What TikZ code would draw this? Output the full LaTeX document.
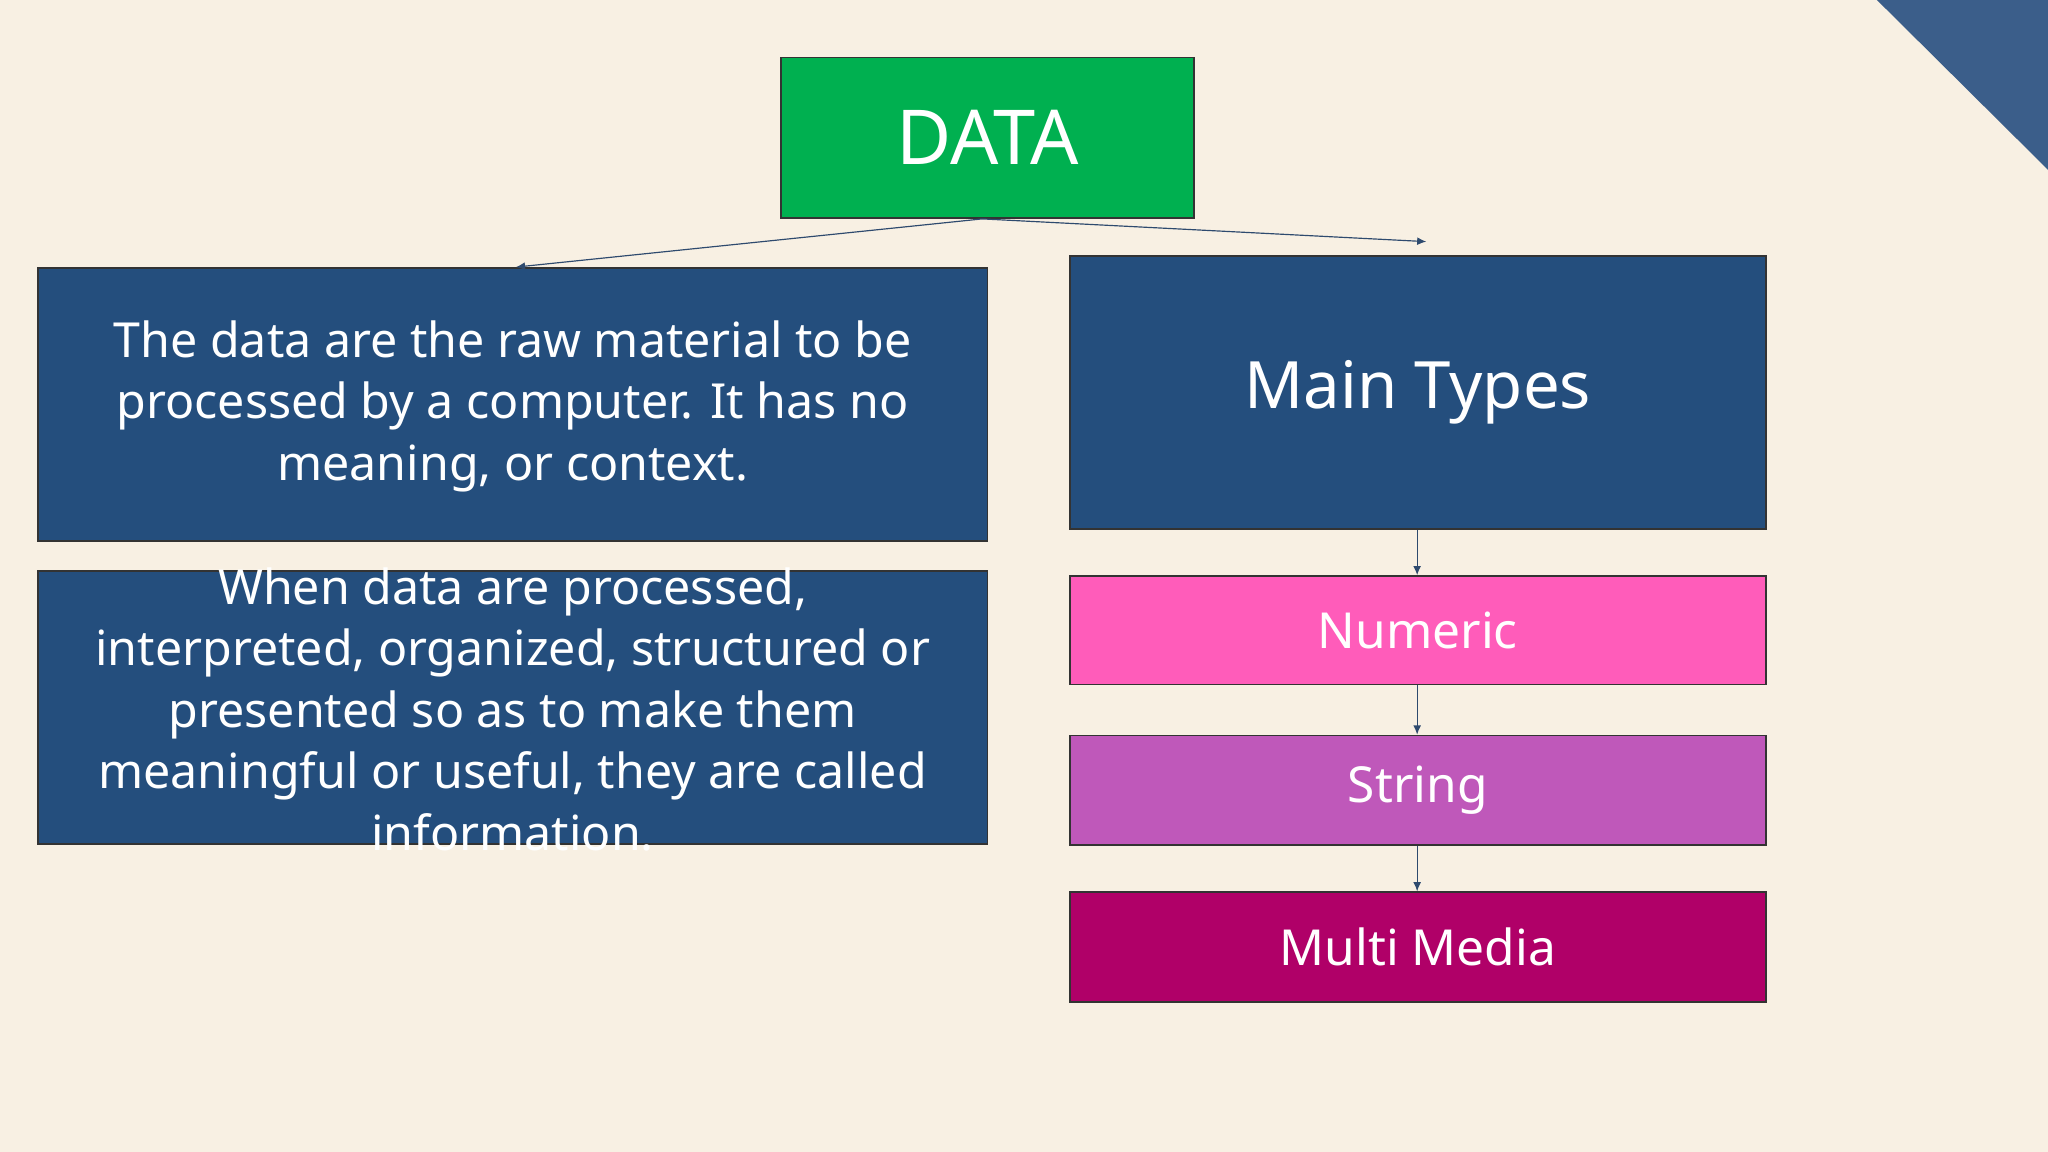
\documentclass[tikz,border=0pt]{standalone}
\usepackage{fontspec}
\setmainfont{Noto Sans}
\usetikzlibrary{arrows.meta}
\definecolor{bg}{HTML}{F8F0E3}
\definecolor{navy}{HTML}{244E7D}
\definecolor{grn}{HTML}{00B050}
\definecolor{pinkc}{HTML}{FF5CBA}
\definecolor{purp}{HTML}{BF58BA}
\definecolor{mag}{HTML}{B00068}
\definecolor{corner}{HTML}{3B5E8A}
\definecolor{ln}{HTML}{2E4A6E}
\begin{document}
\begin{tikzpicture}[x=1pt,y=-1pt,
 box/.style={draw=black!80,line width=1.2pt,inner sep=0pt,text=white,align=center},
 arr/.style={draw=ln,line width=0.9pt,-{Latex[length=7pt,width=6pt]}}]
\fill[bg] (0,0) rectangle (1568,882);
\useasboundingbox (0,0) rectangle (1568,882);
\fill[corner] (1437,0) -- (1568,0) -- (1568,130) -- cycle;
\node[box,fill=grn,minimum width=316pt,minimum height=123pt,font=\fontsize{58}{60}\selectfont\bfseries] (data) at (756,105.5) {DATA};
\node[box,fill=navy,minimum width=727pt,minimum height=209pt] (b1) at (392.5,309.5) {};
\node[text=white,align=center,font=\fontsize{37}{47}\selectfont] (t1) at (392.5,311) {The data are the raw material to be\\processed by a computer. It has no\\meaning, or context.};
\node[box,fill=navy,minimum width=727pt,minimum height=209pt] (b2) at (392.5,541.5) {};
\node[text=white,align=center,font=\fontsize{37}{47}\selectfont] (t2) at (392.5,543) {When data are processed,\\interpreted, organized, structured or\\presented so as to make them\\meaningful or useful, they are called\\\textbf{information}.};
\node[box,fill=navy,minimum width=533pt,minimum height=209pt,font=\fontsize{50}{55}\selectfont] (mt) at (1085.5,300.5) {Main Types};
\node[box,fill=pinkc,minimum width=533pt,minimum height=83pt,font=\fontsize{38}{40}\selectfont] (nu) at (1085.5,482.5) {Numeric};
\node[box,fill=purp,minimum width=533pt,minimum height=84pt,font=\fontsize{38}{40}\selectfont] (st) at (1085.5,605) {String};
\node[box,fill=mag,minimum width=533pt,minimum height=84pt,font=\fontsize{38}{40}\selectfont] (mm) at (1085.5,725) {Multi Media};
\coordinate (s) at (752,167.6);
\coordinate (e1) at (395,204.5);
\coordinate (e2) at (1092,185);
\draw[arr] (s) -- (e1);
\draw[arr] (s) -- (e2);
\draw[arr] (mt.south -| 1085,0) -- (nu.north -| 1085,0);
\draw[arr] (nu.south -| 1085,0) -- (st.north -| 1085,0);
\draw[arr] (st.south -| 1085,0) -- (mm.north -| 1085,0);
\end{tikzpicture}
\end{document}
